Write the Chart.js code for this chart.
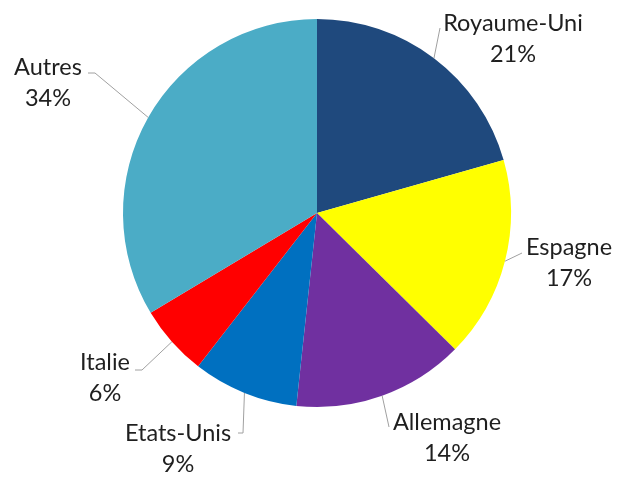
<!DOCTYPE html>
<html>
<head>
<meta charset="utf-8">
<script src="https://cdn.jsdelivr.net/npm/chart.js@4"></script>
<style>
  html, body { margin: 0; padding: 0; background: #fff; }
  #wrap { width: 617px; height: 477px; position: relative; }
</style>
</head>
<body>
<div id="wrap"><canvas id="pieChart"></canvas></div>
<script>
var countries = ["Royaume-Uni", "Espagne", "Allemagne", "Etats-Unis", "Italie", "Autres"];
var shares = [20.6, 16.8, 14.3, 8.8, 5.9, 33.6];
var sliceColors = ["#1F497D", "#FFFF00", "#7030A0", "#0070C0", "#FF0000", "#4BACC6"];

// where each label sits: first-line text centre, then the leader's path (elbow points)
var labelSpots = [
  { text: [513, 23], path: [[440, 28]] },
  { text: [569, 247], path: [[522, 253]] },
  { text: [447, 422], path: [[389, 427]] },
  { text: [178, 433], path: [[243, 433], [238, 433]] },
  { text: [105, 362], path: [[142, 370], [135, 370]] },
  { text: [48, 67], path: [[95, 73], [88, 73]] },
];

var outsideLabels = {
  id: "outsideLabels",
  afterDraw: function (chart) {
    var ctx = chart.ctx;
    var meta = chart.getDatasetMeta(0);
    var data = chart.data.datasets[0].data;
    var total = data.reduce((a, b) => a + b, 0);
    ctx.save();
    meta.data.forEach(function (arc, i) {
      var p = arc.getProps(["x", "y", "startAngle", "endAngle", "outerRadius"], true);
      var mid = (p.startAngle + p.endAngle) / 2;
      var sx = p.x + Math.cos(mid) * p.outerRadius;
      var sy = p.y + Math.sin(mid) * p.outerRadius;
      var spot = labelSpots[i];

      ctx.strokeStyle = "#a0a0a0";
      ctx.lineWidth = 1;
      ctx.beginPath();
      ctx.moveTo(sx, sy);
      spot.path.forEach((pt) => ctx.lineTo(pt[0], pt[1]));
      ctx.stroke();

      ctx.fillStyle = "#1f1f1f";
      ctx.font = "23.5px Lato";
      ctx.textAlign = "center";
      ctx.textBaseline = "middle";
      ctx.fillText(chart.data.labels[i], spot.text[0], spot.text[1]);
      ctx.fillText(Math.round((data[i] / total) * 100) + "%", spot.text[0], spot.text[1] + 31);
    });
    ctx.restore();
  },
};

var ctx = document.getElementById("pieChart").getContext("2d");
new Chart(ctx, {
  type: "pie",
  data: {
    labels: countries,
    datasets: [
      {
        data: shares,
        backgroundColor: sliceColors,
        borderWidth: 0,
      },
    ],
  },
  options: {
    responsive: true,
    maintainAspectRatio: false,
    animation: false,
    layout: { padding: { top: 19, bottom: 70, left: 123, right: 106 } },
    plugins: {
      legend: { display: false },
      tooltip: { enabled: false },
    },
  },
  plugins: [outsideLabels],
});
</script>
</body>
</html>
